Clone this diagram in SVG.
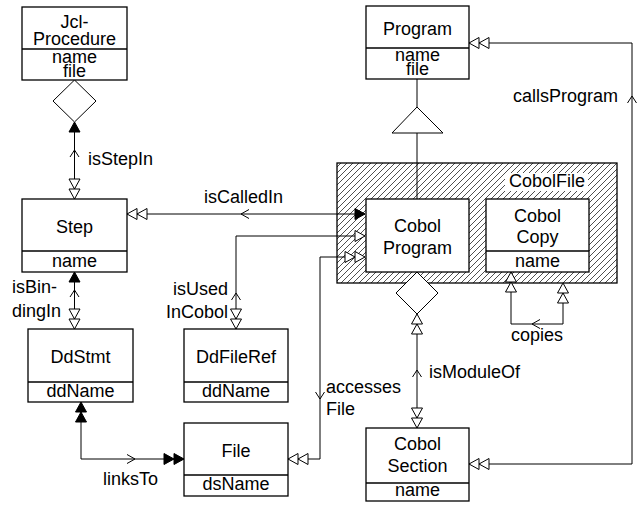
<svg xmlns="http://www.w3.org/2000/svg" width="639" height="506" viewBox="0 0 639 506">
<defs>
<pattern id="hatch" width="6" height="6" patternUnits="userSpaceOnUse">
<path d="M0,6 L6,0 M-1.5,1.5 L1.5,-1.5 M4.5,7.5 L7.5,4.5" stroke="#222" stroke-width="0.8"/>
</pattern>
<style>
text{font-family:"Liberation Sans",Arial,sans-serif;font-size:18px;fill:#000}
.c{text-anchor:middle}
.e{text-anchor:end}
.box{fill:#fff;stroke:#000;stroke-width:1.3}
.div{stroke:#000;stroke-width:1.3}
.ln{fill:none;stroke:#000;stroke-width:1}
.to{fill:#fff;stroke:#000;stroke-width:1}
.tf{fill:#000;stroke:#000;stroke-width:1}
.ch{fill:none;stroke:#000;stroke-width:1}
</style>
</defs>
<rect width="639" height="506" fill="#fff"/>

<g id="CobolFile">
<rect x="337" y="163" width="280" height="120" fill="url(#hatch)" stroke="#000" stroke-width="1.3"/>
<rect x="505" y="173" width="83" height="18" fill="#fff"/>
<text class="c" x="547" y="187">CobolFile</text>
</g>

<g id="connectors">
<!-- isStepIn -->
<polygon class="to" points="74.5,80 96,101 74.5,122 53,101"/>
<path class="ln" d="M74.5 122 V199"/>
<polygon class="tf" points="74.5,122 80,132 69,132"/>
<polyline class="ch" points="70,157 74.5,150 79,157"/>
<polygon class="to" points="74.5,189 69,179 80,179"/>
<polygon class="to" points="74.5,199 69,189 80,189"/>
<!-- isBindingIn -->
<path class="ln" d="M74.5 272 V329"/>
<polygon class="tf" points="74.5,272 80,282 69,282"/>
<polyline class="ch" points="70,297 74.5,290 79,297"/>
<polygon class="to" points="74.5,319 69,309 80,309"/>
<polygon class="to" points="74.5,329 69,319 80,319"/>
<!-- linksTo -->
<path class="ln" d="M81 402 V459 H184"/>
<polygon class="tf" points="81,402 86.5,412 75.5,412"/>
<polygon class="tf" points="81,412 86.5,422 75.5,422"/>
<polyline class="ch" points="127,454.5 135,459 127,463.5"/>
<polygon class="tf" points="174,459 164,453.5 164,464.5"/>
<polygon class="tf" points="184,459 174,453.5 174,464.5"/>
<!-- isCalledIn -->
<path class="ln" d="M127 214 H365"/>
<polygon class="to" points="137,214 147,208.5 147,219.5"/>
<polygon class="to" points="127,214 137,208.5 137,219.5"/>
<polyline class="ch" points="249,209.5 241,214 249,218.5"/>
<polygon class="tf" points="365,214 355,208.5 355,219.5"/>
<!-- isUsedInCobol -->
<path class="ln" d="M365 236 H236 V329"/>
<polygon class="to" points="365,236 355,230.5 355,241.5"/>
<polyline class="ch" points="231.5,300 236,293 240.5,300"/>
<polygon class="to" points="236,319 230.5,309 241.5,309"/>
<polygon class="to" points="236,329 230.5,319 241.5,319"/>
<!-- accessesFile -->
<path class="ln" d="M365 257 H320 V459 H288"/>
<polygon class="to" points="355,257 345,251.5 345,262.5"/>
<polygon class="to" points="365,257 355,251.5 355,262.5"/>
<polygon class="to" points="298,459 308,453.5 308,464.5"/>
<polygon class="to" points="288,459 298,453.5 298,464.5"/>
<polyline class="ch" points="315.5,392 320,399 324.5,392"/>
<!-- inheritance -->
<path class="ln" d="M417 79 V107 M417 133 V199"/>
<polygon class="to" points="417,107 443,133 392,133"/>
<!-- isModuleOf -->
<polygon class="to" points="417,272 438,293 417,314 396,293"/>
<path class="ln" d="M417 314 V428"/>
<polygon class="to" points="417,324 422.5,334 411.5,334"/>
<polygon class="to" points="417,314 422.5,324 411.5,324"/>
<polyline class="ch" points="412.5,377 417,370 421.5,377"/>
<polygon class="to" points="417,418 411.5,408 422.5,408"/>
<polygon class="to" points="417,428 411.5,418 422.5,418"/>
<!-- copies -->
<path class="ln" d="M511 272 V324 H563 V293"/>
<polygon class="to" points="511,282 516.5,292 505.5,292"/>
<polygon class="to" points="511,272 516.5,282 505.5,282"/>
<polygon class="to" points="563,293 568.5,303 557.5,303"/>
<polygon class="to" points="563,283 568.5,293 557.5,293"/>
<polyline class="ch" points="540,319.5 532,324 540,328.5"/>
<!-- callsProgram -->
<path class="ln" d="M469 43 H632 V464 H469"/>
<polygon class="to" points="479,43 489,37.5 489,48.5"/>
<polygon class="to" points="469,43 479,37.5 479,48.5"/>
<polygon class="to" points="479,464 489,458.5 489,469.5"/>
<polygon class="to" points="469,464 479,458.5 479,469.5"/>
<polyline class="ch" points="627.5,103 632,96 636.5,103"/>
<!-- labels -->
<text x="88" y="165">isStepIn</text>
<text x="12" y="293">isBin-</text>
<text x="12" y="317">dingIn</text>
<text x="103" y="485">linksTo</text>
<text x="204" y="203">isCalledIn</text>
<text class="e" x="228" y="295">isUsed</text>
<text class="e" x="228" y="318">InCobol</text>
<text x="326" y="393">accesses</text>
<text x="326" y="415">File</text>
<text x="429" y="378">isModuleOf</text>
<text class="c" x="537" y="341">copies</text>
<text class="e" x="618" y="102">callsProgram</text>
</g>

<g id="JclProcedure">
<rect class="box" x="22" y="7" width="105" height="73"/>
<line class="div" x1="22" y1="49" x2="127" y2="49"/>
<text class="c" x="74.5" y="28">Jcl-</text>
<text class="c" x="74.5" y="45">Procedure</text>
<text class="c" x="74.5" y="63">name</text>
<text class="c" x="74.5" y="77">file</text>
</g>
<g id="Step">
<rect class="box" x="22" y="199" width="105" height="73"/>
<line class="div" x1="22" y1="251" x2="127" y2="251"/>
<text class="c" x="74.5" y="233">Step</text>
<text class="c" x="74.5" y="267">name</text>
</g>
<g id="DdStmt">
<rect class="box" x="28" y="329" width="105" height="73"/>
<line class="div" x1="28" y1="382" x2="133" y2="382"/>
<text class="c" x="80.5" y="363">DdStmt</text>
<text class="c" x="80.5" y="397">ddName</text>
</g>
<g id="DdFileRef">
<rect class="box" x="184" y="329" width="104" height="73"/>
<line class="div" x1="184" y1="382" x2="288" y2="382"/>
<text class="c" x="236" y="363">DdFileRef</text>
<text class="c" x="236" y="397">ddName</text>
</g>
<g id="File">
<rect class="box" x="184" y="423" width="104" height="73"/>
<line class="div" x1="184" y1="475" x2="288" y2="475"/>
<text class="c" x="236" y="457">File</text>
<text class="c" x="236" y="490">dsName</text>
</g>
<g id="Program">
<rect class="box" x="366" y="6" width="103" height="73"/>
<line class="div" x1="366" y1="48" x2="469" y2="48"/>
<text class="c" x="417.5" y="35">Program</text>
<text class="c" x="417.5" y="61">name</text>
<text class="c" x="417.5" y="75">file</text>
</g>
<g id="CobolProgram">
<rect class="box" x="366" y="199" width="103" height="73"/>
<text class="c" x="417.5" y="232">Cobol</text>
<text class="c" x="417.5" y="254">Program</text>
</g>
<g id="CobolCopy">
<rect class="box" x="486" y="199" width="103" height="73"/>
<line class="div" x1="486" y1="251" x2="589" y2="251"/>
<text class="c" x="537.5" y="222">Cobol</text>
<text class="c" x="537.5" y="243">Copy</text>
<text class="c" x="537.5" y="267">name</text>
</g>
<g id="CobolSection">
<rect class="box" x="366" y="428" width="103" height="73"/>
<line class="div" x1="366" y1="483" x2="469" y2="483"/>
<text class="c" x="417.5" y="450">Cobol</text>
<text class="c" x="417.5" y="472">Section</text>
<text class="c" x="417.5" y="496">name</text>
</g>
</svg>
